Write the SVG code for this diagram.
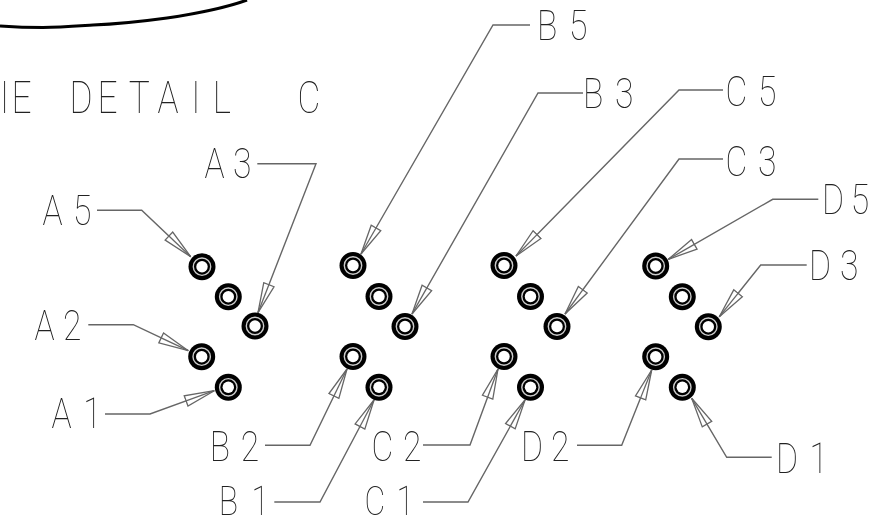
<svg xmlns="http://www.w3.org/2000/svg" width="877" height="525" viewBox="0 0 877 525">
<style>
text{font-family:"Roboto","Liberation Sans",sans-serif;font-weight:100;font-size:42px;fill:#222}
.t{filter:url(#g)}
.s{font-size:40px}
.l{fill:none;stroke:#666;stroke-width:1.4;marker-end:url(#a)}
.o{fill:#000}.r{fill:none;stroke:#ccc;stroke-width:1.4}.h{fill:#fff}
</style>
<defs>
<filter id="g" filterUnits="userSpaceOnUse" x="0" y="0" width="877" height="525"><feOffset dx="0" dy="0"/></filter>
<marker id="a" markerUnits="userSpaceOnUse" markerWidth="34" markerHeight="14" refX="31" refY="7" orient="auto">
<path d="M31 7L1 1.5L1 12.5Z" fill="#fff" stroke="#666" stroke-width="1.3"/><path d="M31 7L1 7" stroke="#666" stroke-width="1.3" fill="none"/>
</marker>
<g id="p"><circle class="o" r="13.5"/><circle class="r" r="8.7"/><circle class="h" r="5.7"/></g>
</defs>
<path id="curve" d="M0 26C15 27 30 27.5 43 27.5C60 27.5 78 26 93 25C120 24 145 21 167 18C200 13 228 7 247 0" fill="none" stroke="#000" stroke-width="3"/>
<g class="t">
<text transform="matrix(.8 0 0 1 0 113)" style="font-size:44px" x="0 14.4 50 87 122 161 197 239 266 320 372">IE DETAIL C</text>
</g>
<g id="connectors">
<polyline class="l" points="97,210.3 141.7,210.3 190.7,256.7"/>
<polyline class="l" points="257.3,163.7 316,163.7 258,312.7"/>
<polyline class="l" points="88.3,324.7 133.3,324.7 188.3,350.7"/>
<polyline class="l" points="105,414 150,414 214.3,390.7"/>
<polyline class="l" points="265,445.3 310,445.3 347,369"/>
<polyline class="l" points="274.3,502 320,502 374,400"/>
<polyline class="l" points="530,25 493,25 361,254"/>
<polyline class="l" points="583,93 538,93 412,314"/>
<polyline class="l" points="723,90 679,90 516,256"/>
<polyline class="l" points="723,159 679,159 565,314"/>
<polyline class="l" points="423,445 470,445 498,369"/>
<polyline class="l" points="423,502 468,502 525,400"/>
<polyline class="l" points="818.3,199.3 772.7,199.3 668.3,259.3"/>
<polyline class="l" points="806.7,265 760.7,265 719.3,316.7"/>
<polyline class="l" points="577,445.3 621.7,445.3 651.7,370"/>
<polyline class="l" points="771.7,457.3 726.7,457.3 691.7,398.3"/>
</g>
<g id="A"><use href="#p" x="202" y="266.7"/><use href="#p" x="228.3" y="296.7"/><use href="#p" x="255" y="326"/><use href="#p" x="201.7" y="356.7"/><use href="#p" x="228.3" y="387.3"/></g>
<g id="B"><use href="#p" x="353" y="265.5"/><use href="#p" x="379" y="296.5"/><use href="#p" x="405" y="326.5"/><use href="#p" x="353" y="356.5"/><use href="#p" x="379" y="387.3"/></g>
<g id="C"><use href="#p" x="504" y="265.5"/><use href="#p" x="530.5" y="296.5"/><use href="#p" x="557" y="326.5"/><use href="#p" x="504" y="356.5"/><use href="#p" x="530.5" y="387.3"/></g>
<g id="D"><use href="#p" x="655.7" y="266"/><use href="#p" x="682.3" y="296.7"/><use href="#p" x="708.3" y="326.7"/><use href="#p" x="655.7" y="356.7"/><use href="#p" x="682.3" y="387.3"/></g>
<g id="labels" class="t">
<text transform="matrix(.8 0 0 1 42.5 225)" x="0 38">A5</text>
<text transform="matrix(.8 0 0 1 204.5 178)" x="0 35.6">A3</text>
<text transform="matrix(.8 0 0 1 34.5 340)" x="0 35.6">A2</text>
<text transform="matrix(.8 0 0 1 51.5 428)" x="0 39.6">A1</text>
<text transform="matrix(.8 0 0 1 209.7 461)" x="0 38.7">B2</text>
<text class="s" transform="matrix(.8 0 0 1 218.7 515)" x="0 41">B1</text>
<text transform="matrix(.8 0 0 1 537 40)" x="0 40">B5</text>
<text transform="matrix(.8 0 0 1 583 108)" x="0 40">B3</text>
<text transform="matrix(.8 0 0 1 725.5 106)" x="0 40.6">C5</text>
<text transform="matrix(.8 0 0 1 725.5 176)" x="0 40.6">C3</text>
<text transform="matrix(.8 0 0 1 371.5 461)" x="0 39.4">C2</text>
<text class="s" transform="matrix(.8 0 0 1 364.5 515)" x="0 40">C1</text>
<text transform="matrix(.8 0 0 1 822 214)" x="0 36">D5</text>
<text transform="matrix(.8 0 0 1 809 280)" x="0 38.7">D3</text>
<text transform="matrix(.8 0 0 1 521 461)" x="0 37.5">D2</text>
<text transform="matrix(.8 0 0 1 776 473)" x="0 41.9">D1</text>
</g>
</svg>
